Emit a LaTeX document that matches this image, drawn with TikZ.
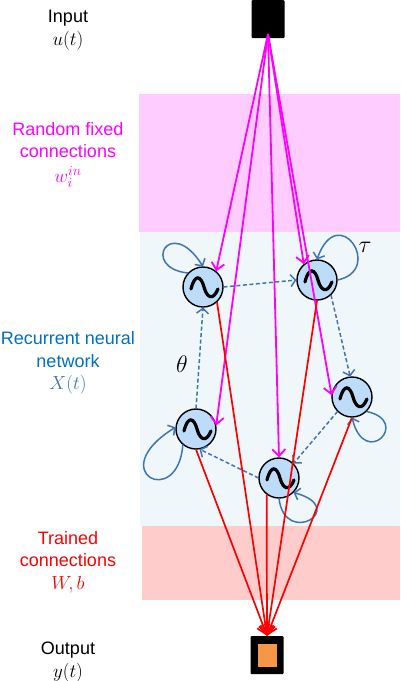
\documentclass[tikz,border=0pt]{standalone}
\usepackage{fix-cm}
\usepackage{amsmath}
\usepackage{fontspec}
\setmainfont{Liberation Sans}
\usetikzlibrary{arrows.meta}
\DeclareMathSizes{18}{19}{14}{10}
\DeclareMathSizes{22}{24}{16}{12}

\definecolor{neuronblue}{HTML}{BDDCFA}
\definecolor{linkblue}{HTML}{3F75B5}
\definecolor{textblue}{HTML}{0070C0}
\definecolor{resorange}{HTML}{F79646}
\definecolor{purepink}{HTML}{FF00FF}
\definecolor{rnnback}{HTML}{F0F7FA}
\definecolor{randback}{HTML}{FFCCFF}
\definecolor{trainback}{HTML}{FFCCCC}

\tikzset{
neuron/.style={circle,draw=black,fill=neuronblue,line width=1.4pt,minimum size=40pt,inner sep=0pt,outer sep=0.5pt},
wave/.style={line width=3.2pt,line cap=round},
selfloop/.style={draw=linkblue,line width=1.5pt,-{Straight Barb[length=5pt,width=12pt]}},
reclink/.style={selfloop,dash pattern=on 4pt off 2.5pt},
infeed/.style={draw=purepink,line width=1.8pt,-{Straight Barb[length=7pt,width=13pt]}},
readout/.style={draw=red,line width=1.7pt,-{Straight Barb[length=9pt,width=13pt]}},
labeltext/.style={align=center,font=\fontsize{18}{22.5}\selectfont,inner sep=0pt},
greektext/.style={font=\fontsize{22}{26}\selectfont,inner sep=0pt},
}

\begin{document}
\begin{tikzpicture}[x=1pt,y=-1pt]
\useasboundingbox (0,0) rectangle (400,681);

\fill[fill=randback] (139,94) rectangle (400,232);
\fill[fill=rnnback] (140,232) rectangle (400,526);
\fill[fill=trainback] (142,526) rectangle (400,600);

\node[labeltext] (inlabel) at (68,30) {Input\\$u(t)$};
\node[labeltext,text=purepink] (randlabel) at (68,154.5) {Random fixed\\connections\\[2pt]$w_i^{in}$};
\node[labeltext,text=textblue] (rnnlabel) at (68,363) {Recurrent neural\\network\\\textcolor{linkblue}{$X(t)$}};
\node[labeltext,text=red] (trainlabel) at (68,562) {Trained\\connections\\$W,b$};
\node[labeltext] (outlabel) at (68,662) {Output\\$y(t)$};
\node[greektext] (theta) at (182,364) {$\theta$};
\node[greektext] (tau) at (365,247) {$\tau$};

\node[fill=black,rounded corners=1pt,minimum width=33pt,minimum height=38pt,inner sep=0pt] (input) at (268,19) {};
\coordinate (tap) at (268,34);
\node[fill=black,rounded corners=1pt,minimum width=33pt,minimum height=38pt,inner sep=0pt] (output) at (267,655) {};
\node[fill=resorange,minimum width=19pt,minimum height=23pt,inner sep=0pt] (outcore) at (267,655) {};

\foreach \n/\x/\y in {n1/203/287,n2/317/280,n3/352/397,n4/279/478,n5/196/429}
{\node[neuron] (\n) at (\x,\y) {};
\begin{scope}[shift={(\x,\y)}]
\draw[wave] (-12,2) .. controls (-8,-14) and (-2,-11) .. (1,0) .. controls (4,11) and (10,14) .. (15,2);
\end{scope}}

\draw[selfloop] (n1.137) .. controls (140,268) and (170,214) .. (n1.90);
\draw[selfloop] (n2.0) .. controls (385,270) and (338,200) .. (n2.90);
\draw[selfloop] (n3.-45) .. controls (412,421) and (365,470) .. (n3.-90);
\draw[selfloop] (n4.-90) .. controls (285,548) and (350,508) .. (n4.-45);
\draw[selfloop] (n5.-130) .. controls (178,510) and (103,472) .. (n5.175);

\draw[reclink] (n1.0)--(n2.180);
\draw[reclink] (n2.-47)--(n3.95);
\draw[reclink] (n3.-135)--(n4.45);
\draw[reclink] (n4.180)--(n5.-80);
\draw[reclink] (n5.90)--(n1.-90);

\foreach \a in {n1.50,n2.130,n3.175,n4.90,n5.10} \draw[infeed] (tap)--(\a);
\foreach \a in {n1.-47,n2.-90,n3.-90,n4.-127,n5.-90} \draw[readout] (\a)--(output.north);

\end{tikzpicture}
\end{document}
